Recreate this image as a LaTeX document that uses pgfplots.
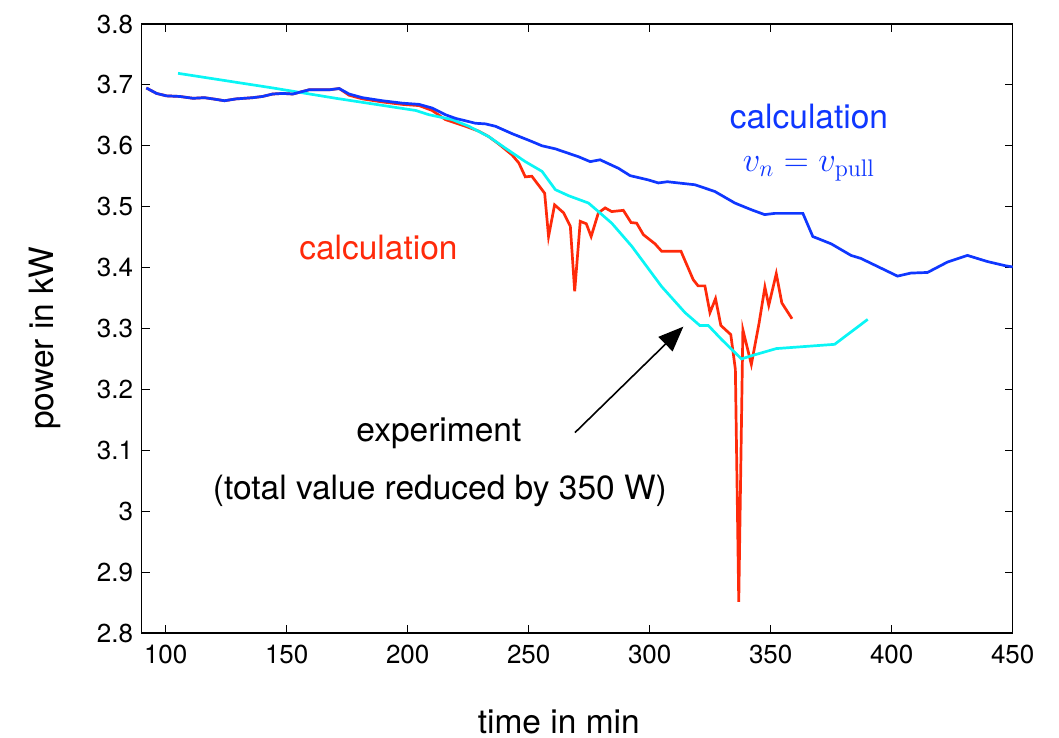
\documentclass[border=0pt]{standalone}
\usepackage[no-math]{fontspec}
\setmainfont{TeX Gyre Heros}
\usepackage{pgfplots}
\pgfplotsset{compat=1.18}
\usetikzlibrary{arrows.meta}
\definecolor{cblue}{HTML}{0F37FF}
\definecolor{cred}{HTML}{FF2A0A}
\definecolor{ccyan}{HTML}{0AF5F5}
\newcommand\lbl{\fontsize{16.75}{20}\selectfont}

\begin{document}
\begin{tikzpicture}
\useasboundingbox (0,0) rectangle (529.5pt,369pt);
\begin{axis}[
  at={(70.75pt,52.5pt)},anchor=south west,
  scale only axis,width=435.6pt,height=304.5pt,
  xmin=90,xmax=450,ymin=2.8,ymax=3.8,
  xtick={100,150,200,250,300,350,400,450},
  xticklabels={100,150,200,250,300,350,400,450},
  ytick={2.8,2.9,3.0,3.1,3.2,3.3,3.4,3.5,3.6,3.7,3.8},
  yticklabels={2.8,2.9,3,3.1,3.2,3.3,3.4,3.5,3.6,3.7,3.8},
  /pgf/number format/assume math mode=true,
  tick align=inside,major tick length=4pt,
  tick style={black,line width=0.5pt},
  axis line style={line width=0.6pt},
  ticklabel style={font=\fontsize{13}{15}\selectfont},
  xticklabel style={yshift=-2.5pt},
  yticklabel style={xshift=-0.7pt},
  xlabel={time in min},
  xlabel style={font=\lbl,at={(axis description cs:0.479,0)},anchor=base,yshift=-50pt},
  ylabel={power in kW},
  ylabel style={font=\lbl,at={([xshift=-43.75pt]axis description cs:0,0.484)},anchor=base},
  clip=false,
]
% calculation (red)
\addplot[cred,line width=1.35pt] coordinates {
(92,3.695)(96.2,3.686)(100.3,3.682)(105.8,3.681)(111.3,3.678)(116,3.679)(119.5,3.677)(124.3,3.674)(129.1,3.677)(136,3.679)(140,3.681)(144.2,3.685)(148.3,3.686)(152.5,3.685)(159.3,3.692)(167.6,3.692)(171.7,3.694)(175.8,3.683)(181.3,3.677)(189.5,3.672)(197.8,3.668)(204.7,3.666)(210.1,3.658)(215.6,3.643)(223.9,3.632)(229.4,3.624)(233.5,3.615)(237.6,3.603)(243.1,3.585)(245.9,3.572)(248.6,3.549)(251.3,3.550)(256.6,3.522)(258.2,3.451)(260.7,3.503)(264.4,3.490)(267.2,3.468)(269,3.361)(271.3,3.476)(273.8,3.472)(275.8,3.451)(278.8,3.490)(281.6,3.498)(284.3,3.492)(289.1,3.494)(292.3,3.474)(294.6,3.473)(297.4,3.454)(302.2,3.439)(304.9,3.427)(312.9,3.427)(318,3.380)(320,3.370)(322.8,3.370)(324.9,3.326)(327.2,3.349)(329.4,3.305)(333.5,3.290)(335.4,3.233)(336.8,2.851)(338.5,3.298)(342,3.241)(345.2,3.309)(347.6,3.368)(349.2,3.338)(352.3,3.390)(354.6,3.342)(358.8,3.316)
};
% experiment (cyan)
\addplot[ccyan,line width=1.35pt] coordinates {
(105.1,3.719)(144.2,3.695)(170.3,3.678)(203.3,3.658)(208.8,3.651)(218.4,3.643)(225.3,3.632)(233.5,3.615)(240.4,3.596)(248.6,3.574)(255.5,3.558)(261,3.528)(266.5,3.518)(274.7,3.506)(278.8,3.492)(284.3,3.473)(292.6,3.435)(304.9,3.369)(314.6,3.326)(320.7,3.305)(324.2,3.305)(329.7,3.282)(337.9,3.250)(342.7,3.256)(352.3,3.267)(376.4,3.274)(390.1,3.315)
};
% calculation v_n = v_pull (blue)
\addplot[cblue,line width=1.35pt] coordinates {
(92,3.695)(96.2,3.686)(100.3,3.682)(105.8,3.681)(111.3,3.678)(116,3.679)(119.5,3.677)(124.3,3.674)(129.1,3.677)(136,3.679)(140,3.681)(144.2,3.685)(148.3,3.686)(152.5,3.685)(159.3,3.692)(167.6,3.692)(171.7,3.694)(175.8,3.685)(181.3,3.679)(189.5,3.674)(197.8,3.670)(204.7,3.668)(210.1,3.662)(215.6,3.651)(219.8,3.645)(223.9,3.641)(228,3.637)(232.1,3.636)(236.3,3.632)(243.1,3.620)(251.3,3.607)(255.5,3.600)(261,3.595)(270.6,3.582)(275.4,3.574)(279.5,3.577)(287.1,3.563)(291.9,3.551)(299.4,3.544)(303.6,3.539)(307.3,3.541)(318.7,3.536)(326.9,3.525)(335.2,3.506)(342,3.495)(347.5,3.487)(351.6,3.489)(363.3,3.489)(367.4,3.451)(375,3.439)(383.2,3.420)(387.3,3.415)(402.4,3.386)(407.9,3.391)(414.8,3.392)(423,3.409)(431.3,3.420)(439.5,3.410)(447,3.403)(450,3.401)
};
\node[anchor=base,text=cblue,font=\lbl] at (axis cs:365.8,3.628) {calculation};
\node[anchor=base,text=cblue,font=\fontsize{17.5}{20}\selectfont] at (axis cs:365.8,3.558) {$v_n=v_{\mathrm{pull}}$};
\node[anchor=base,text=cred,font=\lbl] at (axis cs:187.9,3.413) {calculation};
\node[anchor=base,font=\lbl] at (axis cs:212.9,3.115) {experiment};
\node[anchor=base,font=\lbl] at (axis cs:213.3,3.020) {(total value reduced by 350 W)};
\draw[black,line width=0.8pt,-{Triangle[length=12.5pt,width=10pt]}] (axis cs:269.1,3.129) -- (axis cs:313.9,3.303);
\end{axis}
\end{tikzpicture}
\end{document}
